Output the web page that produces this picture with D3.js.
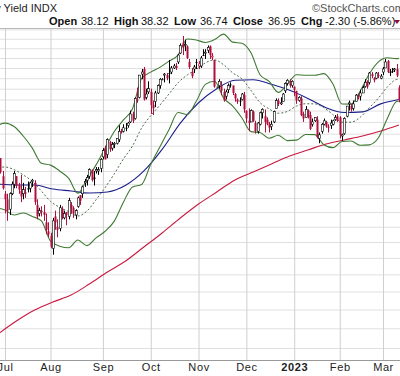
<!DOCTYPE html>
<html>
<head>
<meta charset="utf-8">
<script src="https://cdn.jsdelivr.net/npm/d3@7"></script>
<style>
  html, body { margin: 0; padding: 0; background: #fff; overflow: hidden; }
  svg { display: block; font-family: "Liberation Sans", Arial, sans-serif; }
</style>
</head>
<body>
<div id="chartContainer"></div>
<script>
// $TNX daily candles, Jun 28 2022 - Mar 10 2023, with BB(20,2), SMA50 and SMA200 overlays.

const dates = [
  '2022-06-28','2022-06-29','2022-06-30',
  '2022-07-01','2022-07-05','2022-07-06','2022-07-07','2022-07-08','2022-07-11','2022-07-12','2022-07-13','2022-07-14','2022-07-15',
  '2022-07-18','2022-07-19','2022-07-20','2022-07-21','2022-07-22','2022-07-25','2022-07-26','2022-07-27','2022-07-28','2022-07-29',
  '2022-08-01','2022-08-02','2022-08-03','2022-08-04','2022-08-05','2022-08-08','2022-08-09','2022-08-10','2022-08-11','2022-08-12',
  '2022-08-15','2022-08-16','2022-08-17','2022-08-18','2022-08-19','2022-08-22','2022-08-23','2022-08-24','2022-08-25','2022-08-26',
  '2022-08-29','2022-08-30','2022-08-31',
  '2022-09-01','2022-09-02','2022-09-06','2022-09-07','2022-09-08','2022-09-09','2022-09-12','2022-09-13','2022-09-14','2022-09-15',
  '2022-09-16','2022-09-19','2022-09-20','2022-09-21','2022-09-22','2022-09-23','2022-09-26','2022-09-27','2022-09-28','2022-09-29','2022-09-30',
  '2022-10-03','2022-10-04','2022-10-05','2022-10-06','2022-10-07','2022-10-10','2022-10-11','2022-10-12','2022-10-13','2022-10-14',
  '2022-10-17','2022-10-18','2022-10-19','2022-10-20','2022-10-21','2022-10-24','2022-10-25','2022-10-26','2022-10-27','2022-10-28','2022-10-31',
  '2022-11-01','2022-11-02','2022-11-03','2022-11-04','2022-11-07','2022-11-08','2022-11-09','2022-11-10','2022-11-11',
  '2022-11-14','2022-11-15','2022-11-16','2022-11-17','2022-11-18','2022-11-21','2022-11-22','2022-11-23','2022-11-25',
  '2022-11-28','2022-11-29','2022-11-30',
  '2022-12-01','2022-12-02','2022-12-05','2022-12-06','2022-12-07','2022-12-08','2022-12-09','2022-12-12','2022-12-13','2022-12-14',
  '2022-12-15','2022-12-16','2022-12-19','2022-12-20','2022-12-21','2022-12-22','2022-12-23','2022-12-27','2022-12-28','2022-12-29','2022-12-30',
  '2023-01-03','2023-01-04','2023-01-05','2023-01-06','2023-01-09','2023-01-10','2023-01-11','2023-01-12','2023-01-13',
  '2023-01-17','2023-01-18','2023-01-19','2023-01-20','2023-01-23','2023-01-24','2023-01-25','2023-01-26','2023-01-27','2023-01-30','2023-01-31',
  '2023-02-01','2023-02-02','2023-02-03','2023-02-06','2023-02-07','2023-02-08','2023-02-09','2023-02-10',
  '2023-02-13','2023-02-14','2023-02-15','2023-02-16','2023-02-17','2023-02-21','2023-02-22','2023-02-23','2023-02-24','2023-02-27','2023-02-28',
  '2023-03-01','2023-03-02','2023-03-03','2023-03-06','2023-03-07','2023-03-08','2023-03-09','2023-03-10'
];

const opens = [
  31.5,32.0,30.6, 29.3,28.9,28.2,29.3,30.0,30.6,29.9,29.5,29.3,29.4, 29.7,29.7,30.2,30.1,28.5,27.9,28.1,28.0,27.3,26.7,
  26.4,25.6,27.7,27.0,26.9,28.2,27.6,28.0,27.7,28.5, 28.3,27.8,28.4,29.2,29.3,30.1,30.3,30.6,31.1,30.5, 31.0,31.0,31.2,
  32.1,32.7,32.3,33.3,32.8,33.1,33.2,33.5,34.2,34.2, 34.5,34.7,35.0,35.7,35.3,37.0,37.2,39.4,39.9,37.2,37.7,
  37.7,36.5,36.8,37.6,38.3,38.9,39.3,39.3,39.5,39.6, 40.0,40.2,40.6,41.5,42.6,42.3,42.2,40.6,39.6,39.9,40.6,
  40.2,40.2,41.3,41.5,41.8,42.2,41.1,40.8,38.2, 38.3,38.3,37.7,37.3,37.9,38.4,38.3,37.5,37.0, 36.9,37.0,37.4,
  36.0,35.1,35.0,35.9,34.9,34.2,34.8,35.8,35.5,35.2, 34.8,34.6,35.0,36.2,36.9,36.6,36.8,37.8,38.5,38.6,38.3,
  38.2,37.8,36.9,37.1,35.7,35.4,36.0,35.6,34.8, 35.1,35.2,33.6,34.2,34.8,35.0,34.6,34.7,34.8,35.2,35.5,
  35.4,33.8,34.0,35.5,36.6,36.4,36.2,36.8, 37.2,37.3,37.6,38.2,38.7,38.6,39.4,39.0,39.0,39.3,39.0,
  39.6,40.0,40.7,39.6,39.7,39.8,39.9,38.12
];
const highs = [
  32.3,32.0,31.0, 29.5,29.3,29.4,30.2,31.0,30.6,30.1,30.7,30.1,29.8, 30.2,30.2,30.4,30.3,28.9,28.3,28.4,28.5,27.9,27.3,
  26.6,27.6,28.1,27.5,28.5,28.4,28.1,28.0,29.0,28.7, 28.4,28.2,29.1,29.2,29.9,30.4,30.7,31.2,31.1,31.0, 31.3,31.3,32.0,
  32.8,33.0,33.6,33.4,33.3,33.3,33.6,34.7,34.4,34.8, 34.9,35.0,36.0,35.9,37.2,38.1,39.3,39.9,40.1,38.0,38.7,
  38.0,36.9,37.8,38.4,39.0,39.0,39.5,39.5,40.8,40.2, 40.4,40.5,41.4,42.5,43.3,42.9,42.3,40.9,40.0,40.3,40.9,
  40.7,41.2,41.9,41.9,42.3,42.3,41.5,40.8,38.2, 38.9,38.7,38.0,37.9,38.5,38.6,38.3,37.6,37.1, 37.2,37.6,37.7,
  36.0,36.2,36.1,36.0,35.1,35.0,35.9,36.2,36.1,35.4, 35.0,35.1,36.0,37.1,37.1,37.2,37.6,38.6,38.9,38.9,38.8,
  38.2,37.8,37.3,37.3,35.9,36.4,36.1,35.9,35.3, 35.4,35.5,34.1,34.9,35.3,35.1,34.8,35.2,35.2,35.6,35.7,
  35.5,34.0,35.4,36.4,36.9,36.6,36.9,37.5, 37.5,37.9,38.3,38.9,38.8,39.6,39.6,39.1,39.6,39.6,39.4,
  40.1,40.9,40.8,39.9,40.0,40.0,40.4,38.32
];
const lows = [
  31.4,30.8,29.6, 27.9,27.4,27.8,29.2,29.7,29.7,29.3,28.7,28.9,29.0, 29.4,29.4,29.8,28.5,27.5,27.7,27.7,27.4,26.5,26.3,
  25.6,25.2,26.8,26.3,26.7,27.5,27.5,27.1,27.5,27.9, 27.6,27.5,28.3,28.5,29.0,29.8,29.9,30.4,30.2,29.9, 30.8,30.7,30.9,
  31.9,31.9,32.0,32.5,32.6,32.8,33.1,33.3,34.0,34.1, 34.2,34.5,34.9,34.9,35.2,36.7,37.1,38.9,36.9,37.0,37.5,
  35.7,35.6,36.3,37.5,38.0,38.9,38.6,38.8,38.5,39.4, 39.9,39.8,40.4,41.4,41.3,41.7,40.9,39.9,39.0,39.5,39.9,
  39.9,40.0,41.2,40.9,41.5,40.9,40.8,38.1,38.2, 38.0,37.4,36.8,37.0,37.6,38.1,37.4,36.8,36.6, 36.4,36.9,35.8,
  34.9,34.2,35.0,35.0,34.0,34.0,34.7,35.3,34.1,34.7, 34.1,34.3,34.9,36.2,36.4,36.5,36.8,37.6,38.3,38.1,38.1,
  37.3,36.6,36.8,35.5,35.0,35.4,35.3,34.3,34.6, 35.0,33.6,33.2,34.0,34.7,34.5,34.1,34.4,34.7,35.1,35.0,
  33.6,33.4,33.9,35.4,36.0,35.9,36.0,36.8, 37.0,36.9,37.6,38.1,38.0,38.4,39.0,38.6,38.9,39.0,38.9,
  39.3,40.0,39.5,39.2,39.5,39.6,39.1,36.74
];
const closes = [
  32.0,30.9,29.7, 28.9,28.1,29.3,30.0,30.8,29.9,29.6,29.1,29.6,29.3, 29.6,30.1,30.3,28.7,27.7,28.1,28.0,27.8,26.8,26.5,
  25.7,27.4,27.3,26.8,28.3,27.6,27.9,27.8,28.8,28.3, 27.9,28.1,29.0,28.8,29.8,30.2,30.5,31.1,30.3,30.4, 31.1,31.1,31.9,
  32.6,31.9,33.5,32.7,33.1,33.2,33.6,34.2,34.1,34.5, 34.5,34.9,35.7,35.1,37.1,36.9,39.3,39.6,37.0,37.5,38.0,
  36.5,36.2,37.6,38.3,38.9,38.9,39.4,39.0,39.5,40.0, 40.2,40.0,41.3,42.3,42.1,42.4,41.0,40.1,39.2,40.1,40.5,
  40.4,41.0,41.2,41.6,42.1,41.3,41.2,38.2,38.2, 38.7,37.8,36.9,37.7,38.3,38.3,37.6,37.1,36.8, 36.9,37.5,36.1,
  35.3,34.9,36.0,35.1,34.2,34.9,35.8,36.1,35.0,34.8, 34.5,34.8,35.9,36.9,36.6,36.7,37.5,38.5,38.8,38.3,38.7,
  37.9,36.9,37.2,35.6,35.3,36.1,35.4,34.4,35.0, 35.4,33.7,33.9,34.8,35.1,34.6,34.5,34.9,35.1,35.4,35.1,
  33.9,33.9,35.3,36.4,36.7,36.1,36.6,37.4, 37.1,37.6,38.1,38.6,38.2,39.5,39.2,38.8,39.5,39.2,39.2,
  39.9,40.6,39.6,39.6,39.7,39.9,39.25,36.95
];

// Bollinger Bands (20,2) read at every 4th session
const bbDates = [
  '2022-06-28','2022-07-01','2022-07-08','2022-07-14','2022-07-20','2022-07-26','2022-08-01','2022-08-05','2022-08-11','2022-08-17',
  '2022-08-23','2022-08-29','2022-09-02','2022-09-09','2022-09-15','2022-09-21','2022-09-27','2022-10-03','2022-10-07','2022-10-13',
  '2022-10-19','2022-10-25','2022-10-31','2022-11-04','2022-11-10','2022-11-16','2022-11-22','2022-11-29','2022-12-05','2022-12-09',
  '2022-12-15','2022-12-21','2022-12-28','2023-01-04','2023-01-10','2023-01-17','2023-01-23','2023-01-27','2023-02-02','2023-02-08',
  '2023-02-14','2023-02-21','2023-02-27','2023-03-03','2023-03-09','2023-03-10'
];
const bbUpper = [
  34.73,34.9,34.6,33.8,32.8,31.59,31.45,31.0,30.43,29.33,
  30.37,31.47,32.82,34.18,35.17,36.16,38.98,39.59,40.06,40.68,
  41.3,42.97,42.87,42.61,42.91,43.5,42.64,42.52,41.53,39.33,
  38.69,37.66,38.42,39.34,39.29,39.28,39.44,38.44,36.59,36.58,
  37.79,39.43,40.61,41.02,40.94,40.96
];
const bbMid = [
  31.3,31.3,31.1,30.7,30.2,29.49,28.75,28.33,28.03,27.73,
  28.07,28.87,29.76,30.78,31.93,32.98,34.48,35.55,36.48,37.5,
  38.56,39.31,39.85,40.51,40.81,40.32,39.52,38.94,37.85,36.71,
  36.15,35.76,35.92,36.4,36.61,36.6,36.26,35.64,34.97,34.98,
  35.41,36.25,37.13,38.18,38.88,38.9
];
const bbLower = [
  28.28,28.14,27.8,27.94,27.7,27.39,26.05,25.73,25.63,26.13,
  25.77,26.27,26.7,27.38,28.69,29.8,29.98,31.51,32.9,34.32,
  35.82,35.65,36.83,38.41,38.71,37.14,36.4,35.36,34.17,34.09,
  33.61,33.86,33.42,33.46,33.93,33.92,33.08,32.84,33.35,33.38,
  33.03,33.07,33.65,35.34,36.82,36.84
];

// moving averages read at every 8th session
const maDates = [
  '2022-06-28','2022-07-11','2022-07-21','2022-08-02','2022-08-12','2022-08-24','2022-09-06','2022-09-16','2022-09-28','2022-10-10',
  '2022-10-20','2022-11-01','2022-11-11','2022-11-23','2022-12-06','2022-12-16','2022-12-29','2023-01-11','2023-01-24','2023-02-03',
  '2023-02-15','2023-02-28','2023-03-10'
];
const sma50 = [
  30.01,29.94,29.94,29.64,29.5,29.35,29.43,29.92,31.0,32.7,
  34.9,36.7,38.0,38.8,38.85,38.42,37.85,37.1,36.25,35.82,
  35.88,36.6,37.0
];
const sma200 = [
  20.71,21.38,21.97,22.41,22.8,23.43,24.14,24.81,25.68,26.59,
  27.59,28.56,29.43,30.31,30.92,31.54,32.17,32.65,33.14,33.47,
  33.8,34.22,34.73
];

const monthTicks = ['2022-07-01','2022-08-01','2022-09-01','2022-10-03','2022-11-01','2022-12-01','2023-01-03','2023-02-01','2023-03-01'];
const monthLabels = ['Jul','Aug','Sep','Oct','Nov','Dec','2023','Feb','Mar'];
const priceGrid = [20,21,22,23,24,25,26,27,28,29,30,31,32,33,34,35,36,37,38,39,40,41,42,43,44];

const WIDTH = 400, HEIGHT = 376;
const plot = { left: 0, right: 400, top: 28, bottom: 360 };
const UP = '#000000', DOWN = '#b0103c';

const svg = d3.select('#chartContainer').append('svg')
  .attr('width', WIDTH)
  .attr('height', HEIGHT);

const x = d3.scaleLinear()
  .domain([dates.indexOf(monthTicks[0]), dates.indexOf(monthTicks[monthTicks.length - 1])])
  .range([5, 383]);

const y = d3.scaleLog()
  .domain([19.415, 44.16])
  .range([plot.bottom, plot.top]);

// horizontal grid
const gy = svg.append('g')
  .call(d3.axisRight(y).tickValues(priceGrid).tickSize(plot.right - plot.left).tickFormat(''));
gy.select('.domain').remove();
gy.selectAll('.tick line').attr('stroke', '#e0e0e0');

// vertical month grid + labels
const gx = svg.append('g')
  .attr('transform', `translate(0,${plot.bottom})`)
  .call(d3.axisBottom(x)
    .tickValues(monthTicks.map(d => dates.indexOf(d)))
    .tickSize(-(plot.bottom - plot.top))
    .tickPadding(3)
    .tickFormat((d, i) => monthLabels[i]));
gx.select('.domain').remove();
gx.selectAll('.tick line').attr('stroke', '#cfcfcf');
gx.selectAll('.tick text')
  .attr('fill', '#222')
  .style('font-size', '11px')
  .style('font-family', '"Liberation Sans", Arial, sans-serif')
  .style('font-weight', (d, i) => monthLabels[i] === '2023' ? 'bold' : 'normal')
  .style('letter-spacing', '0.6px');

// frame
svg.append('line').attr('x1', 0).attr('x2', WIDTH).attr('y1', plot.top + 0.5).attr('y2', plot.top + 0.5)
  .attr('stroke', '#b8b8b8');
svg.append('line').attr('x1', 0).attr('x2', WIDTH).attr('y1', plot.bottom + 0.5).attr('y2', plot.bottom + 0.5)
  .attr('stroke', '#999');

const g = svg.append('g');
svg.append('clipPath').attr('id', 'plotClip').append('rect')
  .attr('x', plot.left).attr('y', plot.top + 1)
  .attr('width', plot.right - plot.left).attr('height', plot.bottom - plot.top - 1);
g.attr('clip-path', 'url(#plotClip)');

function seriesLine(keys, values, color, width, dash) {
  const pts = keys.map((d, i) => [dates.indexOf(d), values[i]]);
  const path = g.append('path')
    .datum(pts)
    .attr('fill', 'none')
    .attr('stroke', color)
    .attr('stroke-width', width)
    .attr('d', d3.line().x(d => x(d[0])).y(d => y(d[1])).curve(d3.curveMonotoneX));
  if (dash) path.attr('stroke-dasharray', dash);
}

seriesLine(maDates, sma200, '#c8193f', 1.1);
seriesLine(maDates, sma50, '#1b1f8a', 1.1);
seriesLine(bbDates, bbUpper, '#3f7a34', 1.1);
seriesLine(bbDates, bbLower, '#3f7a34', 1.1);
seriesLine(bbDates, bbMid, '#4d6b4d', 1, '2,2');

// candles
const rows = dates.map((d, i) => ({
  i, o: opens[i], h: highs[i], l: lows[i], c: closes[i],
  col: i > 0 && closes[i] < closes[i - 1] ? DOWN : UP
}));

const candles = g.selectAll('.candle')
  .data(rows)
  .enter().append('g')
  .attr('class', 'candle');

candles.append('line')
  .attr('x1', d => Math.round(x(d.i)) + 0.5)
  .attr('x2', d => Math.round(x(d.i)) + 0.5)
  .attr('y1', d => y(d.h))
  .attr('y2', d => y(d.l))
  .attr('stroke', d => d.col)
  .attr('stroke-width', 1);

candles.append('rect')
  .attr('x', d => Math.round(x(d.i)) - 0.5)
  .attr('width', 2)
  .attr('y', d => y(Math.max(d.o, d.c)))
  .attr('height', d => Math.max(1, y(Math.min(d.o, d.c)) - y(Math.max(d.o, d.c))))
  .attr('fill', d => d.c > d.o ? '#fff' : d.col)
  .attr('stroke', d => d.c > d.o ? d.col : 'none')
  .attr('stroke-width', 0.6);

// header
svg.append('text')
  .attr('x', 57).attr('y', 12)
  .attr('text-anchor', 'end')
  .attr('fill', '#222')
  .style('font-size', '11px')
  .text('10-Year US Treasury Yield INDX');

svg.append('text')
  .attr('x', 312).attr('y', 12)
  .attr('fill', '#555')
  .style('font-size', '11px')
  .text('\u00a9StockCharts.com');

const last = rows[rows.length - 1];
const chg = last.c - closes[closes.length - 2];
const quote = [
  { t: 'Open', b: true, x: 49 }, { t: last.o.toFixed(2), x: 81 },
  { t: 'High', b: true, x: 114 }, { t: last.h.toFixed(2), x: 141 },
  { t: 'Low', b: true, x: 174 }, { t: last.l.toFixed(2), x: 200 },
  { t: 'Close', b: true, x: 233 }, { t: last.c.toFixed(2), x: 268 },
  { t: 'Chg', b: true, x: 301 },
  { t: `${chg.toFixed(2)} (${(chg / closes[closes.length - 2] * 100).toFixed(2)}%)`, x: 325 }
];
svg.append('g').selectAll('text')
  .data(quote)
  .enter().append('text')
  .attr('x', d => d.x).attr('y', 25)
  .attr('fill', '#111')
  .style('font-size', '11px')
  .style('font-weight', d => d.b ? 'bold' : 'normal')
  .text(d => d.t);

svg.append('path')
  .attr('d', 'M394,20 L400,20 L397,24 Z')
  .attr('fill', '#8a1030');
</script>
</body>
</html>
